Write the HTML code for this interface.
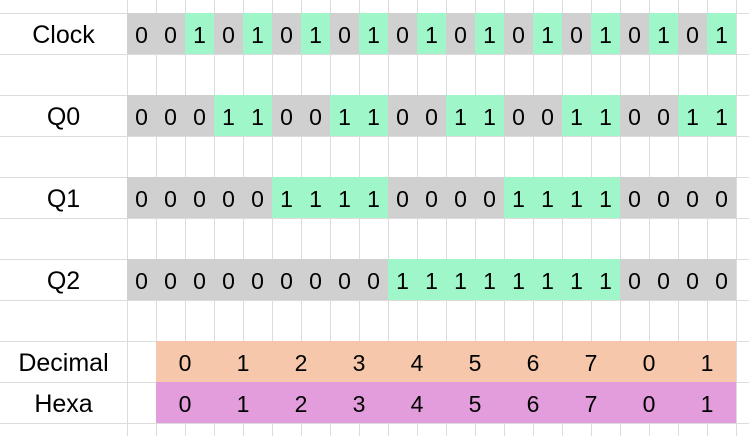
<!DOCTYPE html>
<html><head><meta charset="utf-8"><style>
body{margin:0;width:749px;height:436px;overflow:hidden;background:#fff;font-family:"Liberation Sans",sans-serif;}
#sheet{position:relative;width:749px;height:436px;}
.c{position:absolute;box-sizing:border-box;display:flex;align-items:center;justify-content:center;font-size:23px;color:#000;padding-top:4px;}
.gl{position:absolute;background:#dcdcdc;}
</style></head><body>
<div id="sheet"></div>
<script>
const rowLabels=["Clock","Q0","Q1","Q2"];
const clockVals=[0,0,1,0,1,0,1,0,1,0,1,0,1,0,1,0,1,0,1,0,1];
const q0Vals=[0,0,0,1,1,0,0,1,1,0,0,1,1,0,0,1,1,0,0,1,1];
const q1Vals=[0,0,0,0,0,1,1,1,1,0,0,0,0,1,1,1,1,0,0,0,0];
const q2Vals=[0,0,0,0,0,0,0,0,0,1,1,1,1,1,1,1,1,0,0,0,0];
const decimalVals=[0,1,2,3,4,5,6,7,0,1];
const hexaVals=["0","1","2","3","4","5","6","7","0","1"];

const S=document.getElementById('sheet');
const X0=127,CW=29,Y0=13,RH=41;
for(let x=X0;x<749;x+=CW){const g=document.createElement('div');g.className='gl';


g.style.cssText=`left:${x}px;top:0;width:1px;height:436px`;S.appendChild(g);}
for(let y=Y0;y<436;y+=RH){const g=document.createElement('div');g.className='gl';


g.style.cssText=`left:0;top:${y}px;width:749px;height:1px`;S.appendChild(g);}
function cell(x,y,w,h,txt,bg,name,fs){const d=document.createElement('div');d.className='c';


d.style.cssText=`left:${x}px;top:${y}px;width:${w}px;height:${h}px;${bg?'background:'+bg+';':''}${fs?'font-size:'+fs+'px;':''}`;
d.textContent=txt;S.appendChild(d);return d;}
const series=[clockVals,q0Vals,q1Vals,q2Vals];
series.forEach((vals,r)=>{
 const y=Y0+r*2*RH;
 cell(0,y,X0,RH,rowLabels[r],null,'row-label-'+rowLabels[r].toLowerCase(),25);
 vals.forEach((v,i)=>cell(X0+i*CW,y,CW,RH,String(v),v?'#9ff7c9':'#d0d0d0',rowLabels[r].toLowerCase()+'-bit-'+i));
});
const yd=Y0+8*RH, yh=Y0+9*RH;
cell(0,yd,X0,RH,'Decimal',null,'row-label-decimal',25);
cell(0,yh,X0,RH,'Hexa',null,'row-label-hexa',25);
decimalVals.forEach((v,i)=>cell(X0+CW+i*2*CW,yd,2*CW,RH,String(v),'#f6c7aa','decimal-value-'+i));
hexaVals.forEach((v,i)=>cell(X0+CW+i*2*CW,yh,2*CW,RH,v,'#e39ddc','hexa-value-'+i));
</script>
</body></html>
